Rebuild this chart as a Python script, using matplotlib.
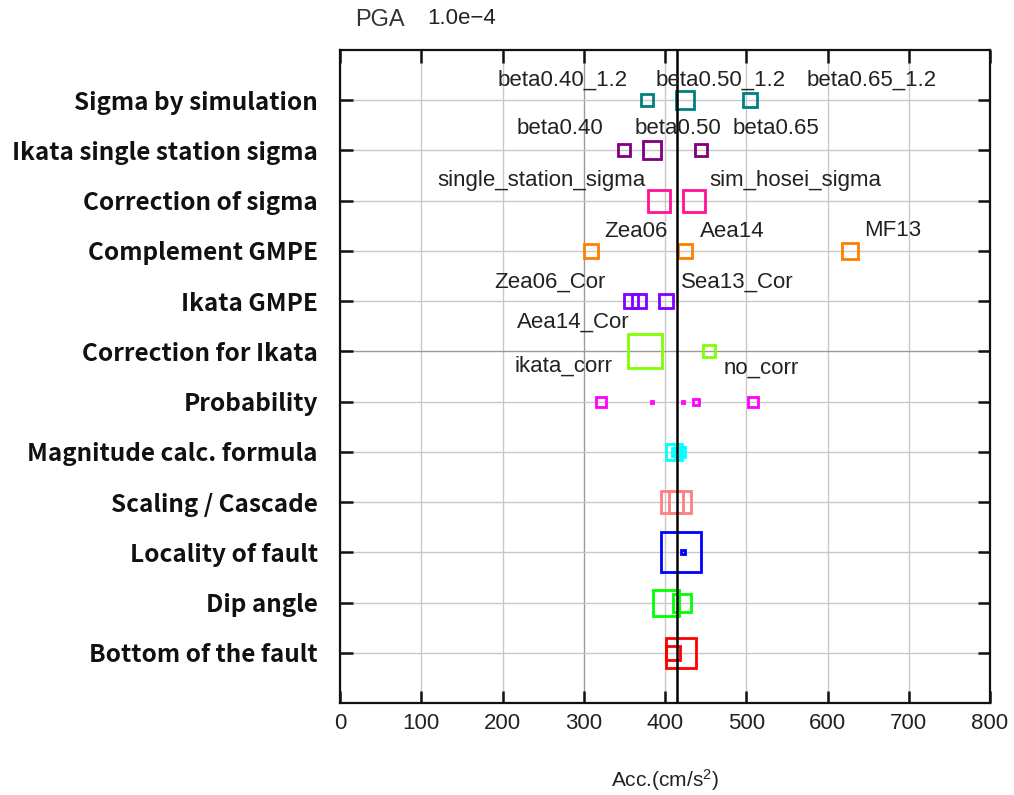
import matplotlib
matplotlib.use("Agg")
import matplotlib.pyplot as plt

plt.rcParams["mathtext.fontset"] = "custom"
plt.rcParams["mathtext.rm"] = "Liberation Sans"
plt.rcParams["mathtext.it"] = "Liberation Sans"

# ---------------- data ----------------
categories = ["Bottom of the fault", "Dip angle", "Locality of fault", "Scaling / Cascade",
              "Magnitude calc. formula", "Probability", "Correction for Ikata", "Ikata GMPE",
              "Complement GMPE", "Correction of sigma", "Ikata single station sigma",
              "Sigma by simulation"]
row_colors = ["#FF0000", "#00FF00", "#0000FF", "#FF8080", "#00FFFF", "#FF00FF",
              "#80FF00", "#8000FF", "#FF8000", "#FF1493", "#800080", "#008080"]

bottom_vals = [419.3, 409.8]
bottom_w = [33, 16]
dip_vals = [401.6, 421.3]
dip_w = [29, 20]
locality_vals = [419.7, 422.0]
locality_w = [43, 6]
scaling_vals = [409.0, 419.0]
scaling_w = [25, 25]
magnitude_vals = [411.0, 418.0, 414.0]
magnitude_w = [19, 13, 10]
probability_vals = [321.2, 384.6, 421.7, 438.0, 508.0]
probability_w = [13, 5, 5.3, 8.7, 12.3]
corr_ikata_vals = [375.4, 453.7]
corr_ikata_w = [36.5, 14]
ikata_gmpe_vals = [358.5, 367.7, 400.8]
ikata_gmpe_w = [16, 16.5, 16.7]
complement_vals = [309.3, 425.2, 627.7]
complement_w = [17, 17.5, 18]
corr_sigma_vals = [392.0, 435.5]
corr_sigma_w = [25, 25.5]
single_station_vals = [350.0, 384.6, 444.5]
single_station_w = [15.5, 20, 15.5]
sim_sigma_vals = [378.0, 424.0, 505.0]
sim_sigma_w = [15, 20, 16]

row_vals = [bottom_vals, dip_vals, locality_vals, scaling_vals, magnitude_vals,
            probability_vals, corr_ikata_vals, ikata_gmpe_vals, complement_vals,
            corr_sigma_vals, single_station_vals, sim_sigma_vals]
row_w = [bottom_w, dip_w, locality_w, scaling_w, magnitude_w, probability_w,
         corr_ikata_w, ikata_gmpe_w, complement_w, corr_sigma_w, single_station_w,
         sim_sigma_w]

reference_value = 415.0

# annotations: text, row index (1-based from bottom), x centre, y offset (rows)
label_texts = ["beta0.40_1.2", "beta0.50_1.2", "beta0.65_1.2",
               "beta0.40", "beta0.50", "beta0.65",
               "single_station_sigma", "sim_hosei_sigma",
               "Zea06", "Aea14", "MF13",
               "Zea06_Cor", "Sea13_Cor", "Aea14_Cor",
               "ikata_corr", "no_corr"]
label_rows = [12, 12, 12, 11, 11, 11, 10, 10, 9, 9, 9, 8, 8, 8, 7, 7]
label_x = [274.5, 468.3, 654.8, 270.2, 415.4, 536.0, 247.4, 560.0,
           363.7, 483.0, 680.0, 258.5, 488.6, 287.4, 275.0, 518.0]
label_dy = [0.40, 0.40, 0.40, 0.43, 0.43, 0.43, 0.40, 0.40,
            0.39, 0.39, 0.41, 0.38, 0.38, -0.42, -0.29, -0.34]

xticks = [0, 100, 200, 300, 400, 500, 600, 700, 800]

# ---------------- figure ----------------
W, H = 1014, 795
DPI = 100
fig = plt.figure(figsize=(W / DPI, H / DPI), dpi=DPI)
ax = fig.add_axes([340 / W, 1 - 703 / H, 650 / W, 653 / H])

ax.set_xlim(0, 800)
ax.set_ylim(0, 13)

ax.set_xticks(xticks)
ax.set_xticklabels([str(t) for t in xticks], fontfamily="Liberation Sans",
                   fontsize=16, color="#222222")
ypos = list(range(1, len(categories) + 1))
ax.set_yticks(ypos)
ax.set_yticklabels(categories, fontfamily=["Noto Sans CJK JP", "DejaVu Sans"],
                   fontweight="bold", fontsize=17.5, color="#111111")

ax.tick_params(axis="x", direction="in", length=9, width=1.8, top=True, bottom=True,
               pad=7, color="#111111")
ax.tick_params(axis="y", direction="in", length=9, width=1.8, left=True, right=True,
               pad=16, color="#111111")
for sp in ax.spines.values():
    sp.set_linewidth(1.6)
    sp.set_color("#111111")

ax.grid(True, color="#c8c8c8", linewidth=1.0, zorder=0)
ax.set_axisbelow(True)
# slightly darker gridlines seen in the reference
ax.get_xgridlines()[3].set_color("#9a9a9a")
ax.get_ygridlines()[6].set_color("#9a9a9a")

mew_px = 2.8
mew_pt = mew_px * 72 / DPI
for i, (vals, ws) in enumerate(zip(row_vals, row_w)):
    y = ypos[i]
    for v, w in zip(vals, ws):
        ms = max(w - mew_px, 0.8) * 72 / DPI
        ax.plot([v], [y], linestyle="none", marker="s", markersize=ms,
                markerfacecolor="none", markeredgecolor=row_colors[i],
                markeredgewidth=mew_pt, zorder=3)

ax.axvline(reference_value, color="black", linewidth=1.8, zorder=4)

for t, r, x, dy in zip(label_texts, label_rows, label_x, label_dy):
    ax.text(x, r + dy, t, ha="center", va="center", fontfamily="Liberation Sans",
            fontsize=16, color="#222222", zorder=5)

ax.set_xlabel("Acc.(cm/s$^{2}$)", fontfamily="Liberation Sans", fontsize=15,
              color="#222222", labelpad=24)

fig.text(355 / W, 1 - 20 / H, "PGA", fontfamily="Liberation Sans", fontsize=17,
         color="#333333", ha="left", va="center")
fig.text(427 / W, 1 - 19 / H, "1.0e\u22124", fontfamily="Liberation Sans", fontsize=16,
         color="#222222", ha="left", va="center")

fig.savefig("out.png", dpi=DPI)
